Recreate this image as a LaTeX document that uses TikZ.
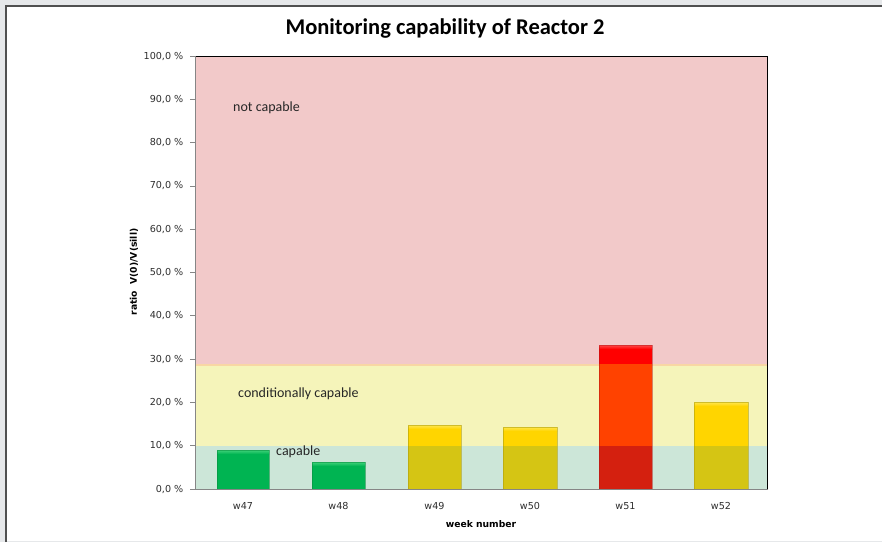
\documentclass[tikz,border=0pt]{standalone}
\usepackage{fontspec}
\setmainfont{Carlito}
\newfontfamily\axfont{DejaVu Sans}
\definecolor{framegray}{HTML}{E6E8EA}
\definecolor{framedark}{HTML}{505050}
\definecolor{zred}{HTML}{F2C9C9}
\definecolor{zyel}{HTML}{F5F4BA}
\definecolor{zgrn}{HTML}{CCE6D8}
\definecolor{zline}{HTML}{F8D6A4}
\definecolor{axisgray}{HTML}{868686}
\definecolor{labgray}{HTML}{2E2E2E}
\definecolor{bgreen}{HTML}{00B452}
\definecolor{bgreenhi}{HTML}{40D27A}
\definecolor{bgreenln}{HTML}{0A9040}
\definecolor{byel}{HTML}{FFD500}
\definecolor{byelhi}{HTML}{FFE650}
\definecolor{byellow}{HTML}{D5C514}
\definecolor{byelln}{HTML}{B0A010}
\definecolor{bred}{HTML}{FF0000}
\definecolor{bredhi}{HTML}{FF4A4A}
\definecolor{bredmid}{HTML}{FF4200}
\definecolor{bredlow}{HTML}{D4200F}
\definecolor{bredln}{HTML}{B01818}
\tikzset{
  ticklab/.style={anchor=east, font=\axfont\fontsize{9.6}{11}\selectfont, text=labgray, inner sep=0pt},
  xlab/.style={font=\axfont\fontsize{9.6}{11}\selectfont, text=labgray, inner sep=0pt},
  zonelab/.style={anchor=west, font=\fontsize{14}{16}\selectfont, text=black!85, inner sep=0pt},
  axtitle/.style={font=\axfont\bfseries\fontsize{9.2}{10}\selectfont, text=black, inner sep=0pt},
  baredge/.style={line width=0.8pt}
}
\begin{document}
\begin{tikzpicture}[x=1pt,y=-1pt]
\useasboundingbox (0,0) rectangle (882,542);
% frame
\fill[framegray] (0,0) rectangle (882,542);
\fill[white] (6.5,6.5) rectangle (882,540.5);
\draw[line width=1.6pt, framedark] (5.8,542) -- (5.8,5.8) -- (882,5.8);
% zones
\fill[zred] (195,56) rectangle (767,364);
\fill[zyel] (195,366) rectangle (767,446);
\fill[zgrn] (195,446) rectangle (767,489);
\draw[zline, line width=2pt] (195,365) -- (767,365);
% bars w47, w48 (green)
\fill[bgreen] (217,450) rectangle (269,489);
\shade[top color=bgreenhi, bottom color=bgreen] (217,450) rectangle (269,454);
\draw[baredge, bgreenln, opacity=0.6] (217,489) rectangle (269,450);
\fill[bgreen] (312,462) rectangle (365,489);
\shade[top color=bgreenhi, bottom color=bgreen] (312,462) rectangle (365,466);
\draw[baredge, bgreenln, opacity=0.6] (312,489) rectangle (365,462);
% bars w49, w50, w52 (yellow)
\fill[byel] (408,425) rectangle (461,446);
\fill[byellow] (408,446) rectangle (461,489);
\shade[top color=byelhi, bottom color=byel] (408,425) rectangle (461,429);
\draw[baredge, byelln, opacity=0.6] (408,489) rectangle (461,425);
\fill[byel] (503,427) rectangle (557,446);
\fill[byellow] (503,446) rectangle (557,489);
\shade[top color=byelhi, bottom color=byel] (503,427) rectangle (557,431);
\draw[baredge, byelln, opacity=0.6] (503,489) rectangle (557,427);
\fill[byel] (694,402) rectangle (748,446);
\fill[byellow] (694,446) rectangle (748,489);
\shade[top color=byelhi, bottom color=byel] (694,402) rectangle (748,406);
\draw[baredge, byelln, opacity=0.6] (694,489) rectangle (748,402);
% bar w51 (red)
\fill[bred] (599,345) rectangle (652,364);
\fill[bredmid] (599,364) rectangle (652,446);
\fill[bredlow] (599,446) rectangle (652,489);
\shade[top color=bredhi, bottom color=bred] (599,345) rectangle (652,349);
\draw[baredge, bredln, opacity=0.5] (599,489) rectangle (652,345);
% plot border and axes
\draw[black, line width=0.8pt] (195,56) -- (767.5,56) -- (767.5,489);
\draw[axisgray, line width=0.8pt] (195,56) -- (195,489) -- (767.5,489);
\foreach \v/\t in {0/0,1/10,2/20,3/30,4/40,5/50,6/60,7/70,8/80,9/90,10/100}{
  \draw[axisgray, line width=0.8pt] (190,489-43.3*\v) -- (195,489-43.3*\v);
  \node[ticklab] (tick\v) at (183.5,489-43.3*\v) {\t,0 \%};
}
% zone labels
\node[zonelab] (notcap) at (233,108) {not capable};
\node[zonelab] (condcap) at (238,394) {conditionally capable};
\node[zonelab] (cap) at (276,452) {capable};
% category labels
\node[xlab] (w47) at (243,506) {w47};
\node[xlab] (w48) at (338.5,506) {w48};
\node[xlab] (w49) at (434.5,506) {w49};
\node[xlab] (w50) at (530,506) {w50};
\node[xlab] (w51) at (625.5,506) {w51};
\node[xlab] (w52) at (721,506) {w52};
% titles
\node[font=\bfseries\fontsize{22.5}{25}\selectfont, inner sep=0pt] (title) at (445,28.5) {Monitoring capability of Reactor 2};
\node[axtitle] (xtitle) at (481,524) {week number};
\node[axtitle, rotate=90] (ytitle) at (134,272) {ratio\ \ V(0)/V(sill)};
\end{tikzpicture}
\end{document}
